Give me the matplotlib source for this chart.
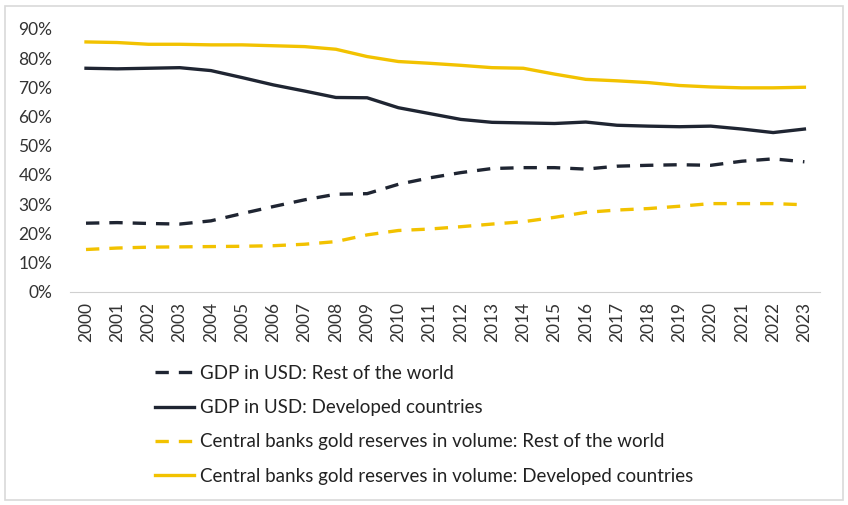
import numpy as np
import matplotlib.pyplot as plt
from matplotlib.patches import Rectangle
from matplotlib.ticker import PercentFormatter

plt.rcParams['font.family'] = ['Lato', 'DejaVu Sans']

years = [str(y) for y in range(2000, 2024)]

gdp_rest = [23.5, 23.7, 23.4, 23.2, 24.3, 26.8, 29.2, 31.5, 33.4, 33.6, 36.8, 39.0,
            40.8, 42.2, 42.5, 42.5, 42.0, 43.0, 43.3, 43.5, 43.3, 44.7, 45.5, 44.5]
gdp_dev = [76.5, 76.3, 76.5, 76.7, 75.7, 73.3, 70.8, 68.7, 66.5, 66.4, 63.0, 61.0,
           59.0, 58.0, 57.8, 57.6, 58.1, 57.0, 56.7, 56.5, 56.7, 55.7, 54.5, 55.7]
gold_rest = [14.5, 15.0, 15.3, 15.4, 15.5, 15.6, 15.8, 16.3, 17.2, 19.5, 21.0, 21.5,
             22.3, 23.2, 24.0, 25.5, 27.2, 28.0, 28.5, 29.3, 30.2, 30.2, 30.2, 29.8]
gold_dev = [85.5, 85.3, 84.7, 84.7, 84.5, 84.5, 84.2, 83.9, 83.0, 80.5, 78.8, 78.2,
            77.5, 76.7, 76.5, 74.5, 72.7, 72.2, 71.6, 70.6, 70.1, 69.8, 69.8, 70.0]

navy = '#1f2532'
gold = '#f2c200'

fig = plt.figure(figsize=(8.48, 5.05), dpi=100)
ax = fig.add_axes([0.083, 0.422, 0.884, 0.521])

x = np.arange(len(years))
ax.plot(x, gdp_rest, color=navy, lw=2.4, ls=(0, (4, 3)), label='GDP in USD: Rest of the world')
ax.plot(x, gdp_dev, color=navy, lw=2.4, label='GDP in USD: Developed countries')
ax.plot(x, gold_rest, color=gold, lw=2.4, ls=(0, (4, 3)),
        label='Central banks gold reserves in volume: Rest of the world')
ax.plot(x, gold_dev, color=gold, lw=2.4, label='Central banks gold reserves in volume: Developed countries')

ax.set_xlim(-0.5, len(years) - 0.5)
ax.set_ylim(0, 90)
ax.set_yticks(np.arange(0, 91, 10))
ax.yaxis.set_major_formatter(PercentFormatter(decimals=0))
ax.set_xticks(x)
ax.set_xticklabels(years, rotation=90)
ax.tick_params(axis='both', length=0, labelsize=12.5, colors='#333333')
ax.tick_params(axis='x', pad=7)
ax.tick_params(axis='y', pad=13)
for s in ['top', 'right', 'left']:
    ax.spines[s].set_visible(False)
ax.spines['bottom'].set_color('#d0d0d0')

leg = fig.legend(loc='upper left', bbox_to_anchor=(0.163, 0.311), frameon=False,
                 fontsize=13.5, handlelength=2.1, handletextpad=0.3, labelspacing=0.92)
for t in leg.get_texts():
    t.set_color('#222222')

fig.patches.append(Rectangle((0.006, 0.01), 0.988, 0.978, transform=fig.transFigure,
                             fill=False, edgecolor='#d9d9d9', lw=1.2))

plt.savefig('out.png', dpi=100)
